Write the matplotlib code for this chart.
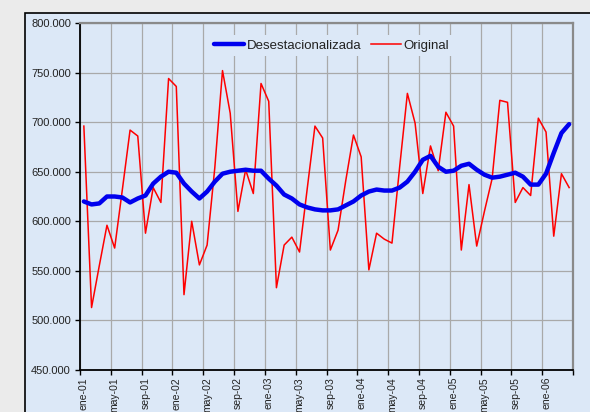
import matplotlib
matplotlib.use('Agg')
import matplotlib.pyplot as plt
from matplotlib.patches import Rectangle

# serie mensual ene-01 .. abr-06 (miles)
original = [696, 513, 555, 596, 573, 632, 692, 686, 588, 634, 619, 744,
            736, 526, 600, 556, 576, 654, 752, 709, 610, 652, 628, 739,
            721, 533, 576, 584, 569, 633, 696, 684, 571, 591, 641, 687,
            665, 551, 588, 582, 578, 655, 729, 699, 628, 676, 651, 710,
            696, 571, 637, 575, 610, 643, 722, 720, 619, 634, 626, 704,
            690, 585, 648, 634]
desest = [620, 617, 618, 625, 625, 624, 619, 623, 626, 638, 645, 650,
          649, 638, 630, 623, 630, 640, 648, 650, 651, 652, 651, 651,
          643, 636, 627, 623, 617, 614, 612, 611, 611, 612, 616, 620,
          626, 630, 632, 631, 631, 634, 640, 650, 662, 666, 655, 650,
          651, 656, 658, 652, 647, 644, 645, 647, 649, 645, 637, 637,
          648, 669, 689, 698]
original = [v * 1000 for v in original]
desest = [v * 1000 for v in desest]

tick_labels = ['ene-01', 'may-01', 'sep-01', 'ene-02', 'may-02', 'sep-02',
               'ene-03', 'may-03', 'sep-03', 'ene-04', 'may-04', 'sep-04',
               'ene-05', 'may-05', 'sep-05', 'ene-06']
y_ticks = [450000, 500000, 550000, 600000, 650000, 700000, 750000, 800000]

plt.rcParams['font.family'] = ['Liberation Sans', 'DejaVu Sans']

bg = '#dce8f7'
fig = plt.figure(figsize=(5.9, 4.12), dpi=100)
fig.patch.set_facecolor('#ebebeb')

# area del grafico (se sale por la derecha y abajo)
fig.patches.append(Rectangle((25 / 590, -0.1), 1.0, 0.1 + 1 - 13 / 412,
                             transform=fig.transFigure, facecolor=bg,
                             edgecolor='black', linewidth=1.2, zorder=-10))

ax = fig.add_axes([80 / 590, 1 - 370 / 412, 493 / 590, 347 / 412])
ax.set_zorder(1)
ax.set_facecolor(bg)

x = list(range(len(original)))
ax.plot(x, desest, color='#0000ee', linewidth=3.2, label='Desestacionalizada',
        zorder=4, solid_capstyle='round')
ax.plot(x, original, color='#ff0000', linewidth=1.1, label='Original', zorder=3)

ax.set_xlim(-0.5, len(original) - 0.5)
ax.set_ylim(450000, 800000)
ax.set_yticks(y_ticks)
ax.set_yticklabels([f'{v // 1000}.000' for v in y_ticks])

major = [i - 0.5 for i in range(0, len(original) + 1, 4)]
ax.set_xticks(major)
ax.set_xticklabels([''] * len(major))
ax.set_xticks(list(range(0, len(tick_labels) * 4, 4)), minor=True)
ax.set_xticklabels(tick_labels, minor=True, rotation=90, fontsize=7.5,
                   color='#222222', va='top', ha='center')
ax.tick_params(axis='x', which='minor', length=0, pad=5)
ax.tick_params(axis='x', which='major', length=3.5, width=1, color='black',
               direction='out')
ax.tick_params(axis='y', length=3.5, width=1, pad=3, labelsize=8,
               labelcolor='#222222')

ax.grid(True, which='major', color='#a9a9a9', linewidth=0.9)
ax.set_axisbelow(True)

for s in ['left', 'bottom']:
    ax.spines[s].set_color('black')
    ax.spines[s].set_linewidth(1.3)
for s in ['top', 'right']:
    ax.spines[s].set_color('#8a8a8a')
    ax.spines[s].set_linewidth(1.6)

leg = ax.legend(loc='upper center', bbox_to_anchor=(0.51, 0.985), ncol=2,
                frameon=True, fontsize=9.5, handlelength=2.3,
                handletextpad=0.2, columnspacing=0.7, borderpad=0.35,
                fancybox=False)
leg.get_frame().set_facecolor(bg)
leg.get_frame().set_edgecolor('none')
leg.get_frame().set_alpha(1)
for t in leg.get_texts():
    t.set_color('#222222')

fig.savefig('out.png', dpi=100, facecolor=fig.get_facecolor())
